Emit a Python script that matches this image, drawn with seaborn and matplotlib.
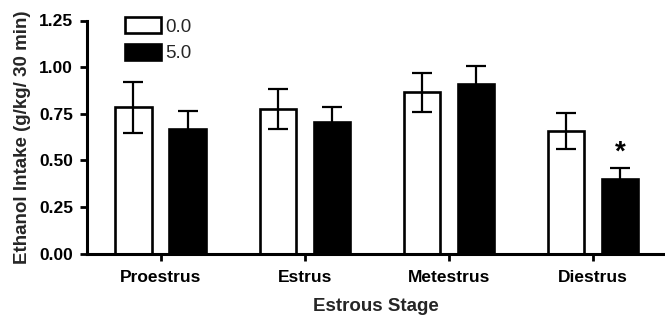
import matplotlib
matplotlib.use("Agg")
import matplotlib.pyplot as plt
import seaborn as sns
import pandas as pd

stages = ["Proestrus", "Estrus", "Metestrus", "Diestrus"]
doses = ["0.0", "5.0"]
mean_0 = [0.785, 0.777, 0.864, 0.655]
sem_0 = [0.136, 0.107, 0.103, 0.097]
mean_5 = [0.668, 0.703, 0.911, 0.400]
sem_5 = [0.094, 0.081, 0.097, 0.058]
y_ticks = [0.00, 0.25, 0.50, 0.75, 1.00, 1.25]

sns.set_theme(style="ticks")
plt.rcParams["font.family"] = ["Liberation Sans", "DejaVu Sans"]

df = pd.DataFrame({
    "stage": stages * 2,
    "dose": [doses[0]] * 4 + [doses[1]] * 4,
    "intake": mean_0 + mean_5,
})

fig = plt.figure(figsize=(6.65, 3.2), dpi=100)
ax = fig.add_axes([87 / 665, 1 - 253.5 / 320, 578 / 665, (253.5 - 20.5) / 320])

sns.barplot(data=df, x="stage", y="intake", hue="dose", hue_order=doses,
            order=stages, palette={"0.0": "white", "5.0": "black"},
            edgecolor="black", linewidth=1.9, width=0.75, gap=0.33,
            errorbar=None, ax=ax, zorder=2)

sems = [sem_0, sem_5]
for cont, sem in zip(ax.containers, sems):
    xs = [p.get_x() + p.get_width() / 2 for p in cont.patches]
    hs = [p.get_height() for p in cont.patches]
    ax.errorbar(xs, hs, yerr=sem, fmt="none", ecolor="black",
                elinewidth=1.6, capsize=7, capthick=1.6, zorder=3)

# significance marker above Diestrus 5.0 bar
p = ax.containers[1].patches[3]
ax.text(p.get_x() + p.get_width() / 2, 0.54, "*", ha="center", va="center",
        fontsize=20, fontweight="bold", color="black")

ax.set_xlim(-0.51, 3.5)
ax.set_ylim(0, 1.25)
ax.set_yticks(y_ticks)
ax.set_yticklabels([f"{v:.2f}" for v in y_ticks])
for s in ["top", "right"]:
    ax.spines[s].set_visible(False)
for s in ["left", "bottom"]:
    ax.spines[s].set_linewidth(2.2)
    ax.spines[s].set_color("black")
ax.tick_params(axis="y", length=5, width=2, pad=5, labelsize=12.5, colors="black")
ax.tick_params(axis="x", length=5, width=2, pad=7, labelsize=12.5, colors="black")
for lab in ax.get_xticklabels() + ax.get_yticklabels():
    lab.set_fontweight("bold")

ax.set_xlabel("Estrous Stage", fontsize=13.5, fontweight="bold", labelpad=9)
ax.set_ylabel("Ethanol Intake (g/kg/ 30 min)", fontsize=13.5, fontweight="bold", labelpad=6)

leg = ax.legend(loc="upper left", bbox_to_anchor=(125 / 665, 1 - 17 / 320),
                bbox_transform=fig.transFigure, frameon=False, fontsize=13.5,
                borderpad=0, borderaxespad=0, handlelength=1.9,
                handleheight=0.95, handletextpad=0.25, labelspacing=0.45)

fig.savefig("out.png", dpi=100)
